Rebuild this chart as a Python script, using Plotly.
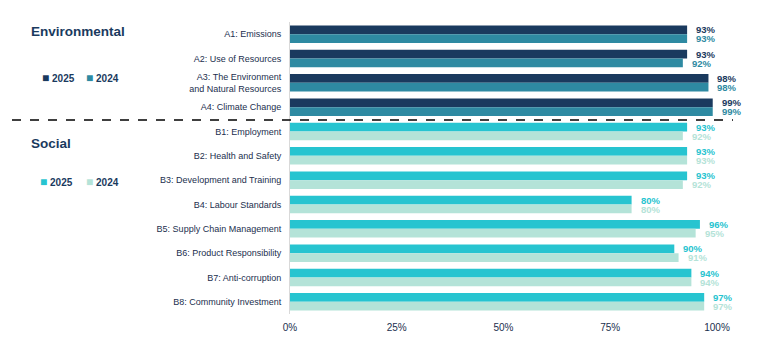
import plotly.graph_objects as go

categories = ["A1: Emissions", "A2: Use of Resources",
              "A3: The Environment<br>and Natural Resources", "A4: Climate Change",
              "B1: Employment", "B2: Health and Safety", "B3: Development and Training",
              "B4: Labour Standards", "B5: Supply Chain Management",
              "B6: Product Responsibility", "B7: Anti-corruption", "B8: Community Investment"]
values_2025 = [93, 93, 98, 99, 93, 93, 93, 80, 96, 90, 94, 97]
values_2024 = [93, 92, 98, 99, 92, 93, 92, 80, 95, 91, 94, 97]
groups = ["Environmental"] * 4 + ["Social"] * 8
tick_vals = [0, 25, 50, 75, 100]
tick_text = ["0%", "25%", "50%", "75%", "100%"]

ENV25, ENV24 = "#1a3a5e", "#2e8aa2"
SOC25, SOC24 = "#27c4d0", "#b4e3d8"
col25 = [ENV25 if g == "Environmental" else SOC25 for g in groups]
col24 = [ENV24 if g == "Environmental" else SOC24 for g in groups]
FONT = "Liberation Sans, Arial, sans-serif"
NAVY = "#1b2f4e"

fig = go.Figure()
fig.add_trace(go.Bar(y=categories, x=values_2025, orientation="h", name="2025",
                     marker=dict(color=col25, line=dict(width=0))))
fig.add_trace(go.Bar(y=categories, x=values_2024, orientation="h", name="2024",
                     marker=dict(color=col24, line=dict(width=0))))

def px2paper(px):
    return (px - 290) / 427.0

def py2paper(py):
    return (314 - py) / 292.0

annots = [
    dict(text="<b>Environmental</b>", x=px2paper(29), y=py2paper(31), font=dict(size=13.5, color=ENV25)),
    dict(text="<b>Social</b>", x=px2paper(29), y=py2paper(143), font=dict(size=13.5, color=ENV25)),
    dict(text=f"<span style='color:{ENV25};font-size:12px'>■</span> <b>2025</b>", x=px2paper(40), y=py2paper(78), font=dict(size=10, color=ENV25)),
    dict(text=f"<span style='color:{ENV24};font-size:12px'>■</span> <b>2024</b>", x=px2paper(84), y=py2paper(78), font=dict(size=10, color=ENV25)),
    dict(text=f"<span style='color:{SOC25};font-size:12px'>■</span> <b>2025</b>", x=px2paper(38), y=py2paper(182), font=dict(size=10, color=ENV25)),
    dict(text=f"<span style='color:{SOC24};font-size:12px'>■</span> <b>2024</b>", x=px2paper(84), y=py2paper(182), font=dict(size=10, color=ENV25)),
]
for a in annots:
    a.update(xref="paper", yref="paper", xanchor="left", yanchor="middle", showarrow=False)
    a["font"]["family"] = FONT

for cat, v25, v24, c25, c24 in zip(categories, values_2025, values_2024, col25, col24):
    annots.append(dict(x=v25, y=cat, xref="x", yref="y", text=f"<b>{v25}%</b>",
                       xanchor="left", yanchor="middle", xshift=7, yshift=4.5,
                       showarrow=False, font=dict(size=9.5, color=c25, family=FONT)))
    annots.append(dict(x=v24, y=cat, xref="x", yref="y", text=f"<b>{v24}%</b>",
                       xanchor="left", yanchor="middle", xshift=7, yshift=-4.5,
                       showarrow=False, font=dict(size=9.5, color=c24, family=FONT)))

fig.update_layout(
    width=784, height=341,
    margin=dict(l=290, r=67, t=22, b=27),
    paper_bgcolor="white", plot_bgcolor="white",
    barmode="group", bargap=0.28, bargroupgap=0,
    showlegend=False,
    font=dict(family=FONT, color=NAVY, size=9),
    annotations=annots,
    shapes=[dict(type="line", xref="paper", yref="paper",
                 x0=px2paper(12), x1=px2paper(733), y0=py2paper(120), y1=py2paper(120),
                 line=dict(color="black", width=1.3, dash="dash"))],
    xaxis=dict(range=[0, 100], tickvals=tick_vals, ticktext=tick_text,
               showgrid=False, zeroline=False, showline=False, automargin=False,
               tickfont=dict(size=10, color=NAVY), ticks="", ticklabelstandoff=6),
    yaxis=dict(autorange="reversed", showgrid=False, showline=True, automargin=False,
               linecolor="#d9d9d9", linewidth=1, ticks="",
               tickfont=dict(size=9, color=NAVY), ticklabelstandoff=6),
)

fig.write_html("out.html")
